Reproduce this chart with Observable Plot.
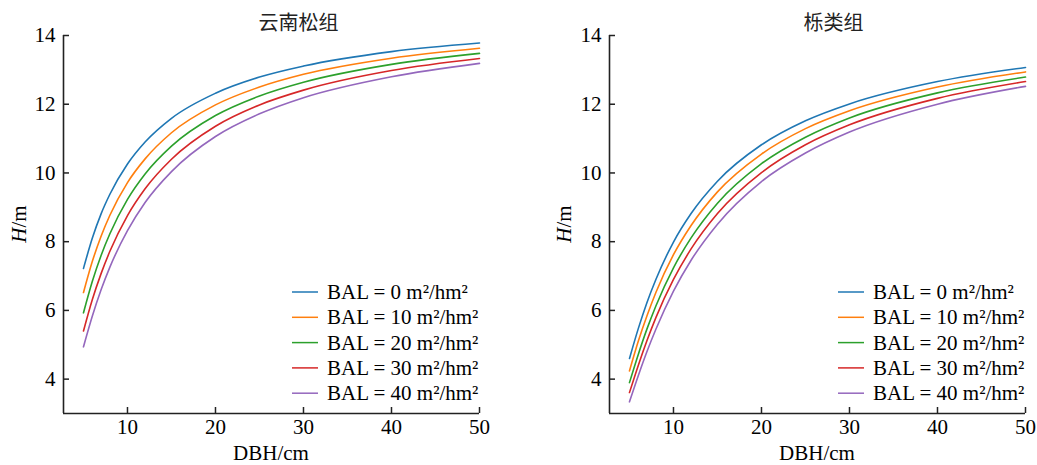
<!DOCTYPE html>
<html><head><meta charset="utf-8">
<script src="https://cdn.jsdelivr.net/npm/d3@7"></script>
<script src="https://cdn.jsdelivr.net/npm/@observablehq/plot@0.6"></script>
<style>
html,body{margin:0;padding:0;background:#fff;}
#wrap{display:flex;width:1037px;height:465px;}
svg{display:block}
</style></head><body><div id="wrap"></div>
<script>
// DBH (cm) sample positions
const dbh = [5, 6, 7, 8, 10, 12, 15, 20, 25, 30, 40, 50];
const balLevels = [0, 10, 20, 30, 40];
const seriesLabels = balLevels.map(b => `BAL = ${b} m²/hm²`);
const colors = ["#1f77b4", "#ff7f0e", "#2ca02c", "#d62728", "#9467bd"];
const groupTitles = ["云南松组", "栎类组"];
const xTicks = [10, 20, 30, 40, 50];
const yTicks = [4, 6, 8, 10, 12, 14];
const xDomain = [2.73, 50];
const yDomain = [3, 14];

// 云南松组 heights (m)
const pineBAL0  = [7.22, 8.10, 8.81, 9.38, 10.26, 10.90, 11.59, 12.32, 12.79, 13.11, 13.53, 13.78];
const pineBAL10 = [6.52, 7.42, 8.16, 8.77, 9.72, 10.41, 11.17, 11.98, 12.50, 12.87, 13.34, 13.63];
const pineBAL20 = [5.93, 6.84, 7.60, 8.23, 9.23, 9.97, 10.78, 11.67, 12.24, 12.64, 13.16, 13.48];
const pineBAL30 = [5.40, 6.31, 7.07, 7.72, 8.76, 9.54, 10.40, 11.36, 11.98, 12.41, 12.98, 13.33];
const pineBAL40 = [4.94, 5.83, 6.60, 7.26, 8.32, 9.14, 10.04, 11.06, 11.72, 12.19, 12.80, 13.19];
// 栎类组 heights (m)
const oakBAL0  = [4.60, 5.47, 6.24, 6.90, 7.99, 8.82, 9.76, 10.82, 11.52, 12.01, 12.66, 13.07];
const oakBAL10 = [4.24, 5.10, 5.85, 6.52, 7.62, 8.47, 9.45, 10.55, 11.29, 11.81, 12.50, 12.94];
const oakBAL20 = [3.90, 4.72, 5.47, 6.13, 7.24, 8.11, 9.12, 10.27, 11.04, 11.60, 12.33, 12.79];
const oakBAL30 = [3.61, 4.40, 5.13, 5.79, 6.90, 7.79, 8.82, 10.01, 10.82, 11.40, 12.17, 12.66];
const oakBAL40 = [3.34, 4.10, 4.81, 5.45, 6.56, 7.46, 8.51, 9.75, 10.58, 11.19, 12.00, 12.52];

const serif = "'Liberation Serif', 'Times New Roman', serif";
const fs = 21;

function panel(title, heightsList, o) {
  const data = heightsList.flatMap((hs, i) => hs.map((h, j) => ({dbh: dbh[j], h, series: seriesLabels[i]})));
  const chart = Plot.plot({
    width: o.width, height: 465,
    marginLeft: o.ml, marginRight: o.mr, marginTop: 35, marginBottom: 52,
    style: {fontFamily: serif, fontSize: fs + "px", color: "#000", background: "#fff"},
    x: {domain: xDomain, ticks: xTicks, label: null},
    y: {domain: yDomain, ticks: yTicks, label: null},
    color: {domain: seriesLabels, range: colors},
    marks: [
      Plot.axisX({ticks: xTicks, tickSize: -6, tickPadding: 12, label: null, strokeWidth: 1.5, stroke: "#222"}),
      Plot.axisY({ticks: yTicks, tickSize: -6, tickPadding: 14, label: null, strokeWidth: 1.5, stroke: "#222"}),
      Plot.ruleX([xDomain[0]], {stroke: "#222", strokeWidth: 1.6}),
      Plot.ruleY([yDomain[0]], {stroke: "#222", strokeWidth: 1.6}),
      Plot.line(data, {x: "dbh", y: "h", stroke: "series", strokeWidth: 1.6, curve: "monotone-x"}),
      Plot.text([title], {frameAnchor: "top", dx: o.tdx, dy: -6, lineAnchor: "bottom",
        fontFamily: "'Noto Sans CJK SC', sans-serif", fontSize: 20, fill: "#222"})
    ]
  });
  const svg = d3.select(chart);
  const frameRight = o.width - o.mr;
  const frameCx = (o.ml + frameRight) / 2;
  // y label
  const yl = svg.append("text")
    .attr("transform", `translate(${o.ylx},224) rotate(-90)`)
    .attr("text-anchor", "middle").attr("font-family", serif).attr("font-size", fs).attr("fill", "#000");
  yl.append("tspan").attr("font-style", "italic").text("H");
  yl.append("tspan").text("/m");
  // x label
  svg.append("text").attr("x", frameCx).attr("y", 460)
    .attr("text-anchor", "middle").attr("font-family", serif).attr("font-size", fs).attr("fill", "#000")
    .text("DBH/cm");
  // legend
  const lg = svg.append("g").attr("text-anchor", "start");
  seriesLabels.forEach((lab, i) => {
    const y = 292 + i * 25.3;
    lg.append("line").attr("x1", frameRight - 187).attr("x2", frameRight - 161)
      .attr("y1", y).attr("y2", y).attr("stroke", colors[i]).attr("stroke-width", 1.5);
    lg.append("text").attr("x", frameRight - 152).attr("y", y + 7)
      .attr("text-anchor", "start")
      .attr("font-family", serif).attr("font-size", fs).attr("fill", "#000").text(lab);
  });
  return chart;
}

const wrap = document.getElementById("wrap");
wrap.appendChild(panel(groupTitles[0], [pineBAL0, pineBAL10, pineBAL20, pineBAL30, pineBAL40],
  {width: 518, ml: 63, mr: 39, tdx: 27, ylx: 26}));
wrap.appendChild(panel(groupTitles[1], [oakBAL0, oakBAL10, oakBAL20, oakBAL30, oakBAL40],
  {width: 519, ml: 91, mr: 12, tdx: 16, ylx: 53}));
</script>
</body></html>
